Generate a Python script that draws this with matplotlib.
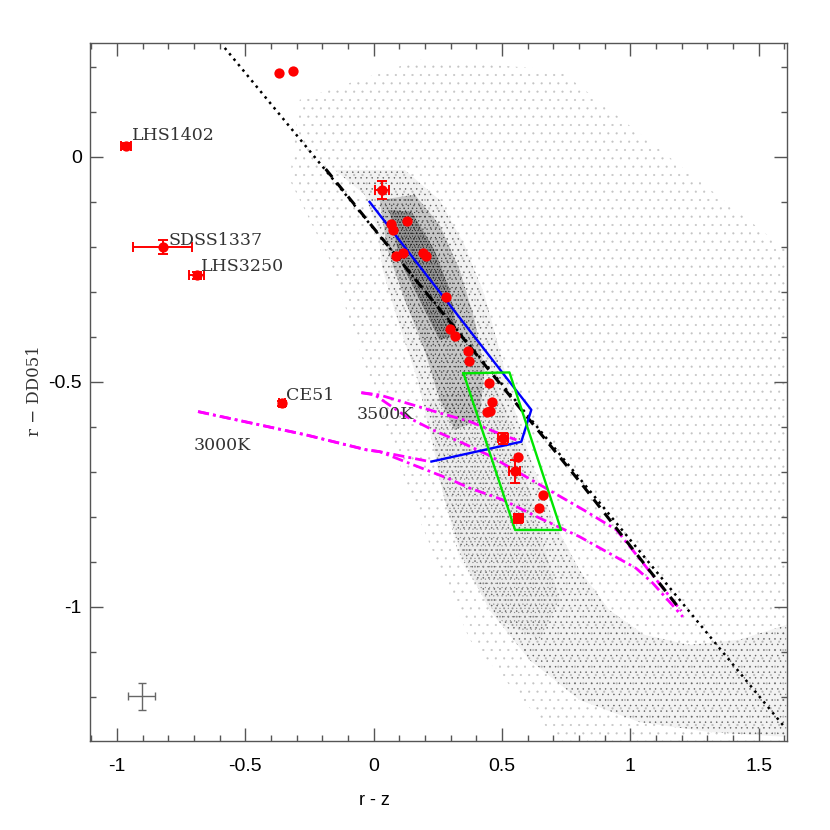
import matplotlib
matplotlib.use("Agg")
import matplotlib.pyplot as plt
from matplotlib.patches import Polygon
import numpy as np

# ---------------- data ----------------
# red measured objects
pts_x = [-0.370, -0.315, -0.965, 0.031, -0.821, -0.689, -0.358, 0.069, 0.074, 0.130,
         0.088, 0.114, 0.192, 0.205, 0.283, 0.296, 0.315, 0.367, 0.371, 0.451,
         0.462, 0.440, 0.455, 0.503, 0.562, 0.549, 0.661, 0.643, 0.564]
pts_y = [0.187, 0.191, 0.024, -0.073, -0.200, -0.263, -0.548, -0.149, -0.162, -0.142,
         -0.221, -0.213, -0.214, -0.220, -0.312, -0.382, -0.397, -0.431, -0.453, -0.503,
         -0.544, -0.567, -0.565, -0.625, -0.668, -0.699, -0.751, -0.781, -0.803]
pts_xerr = [0, 0, 0.020, 0.027, 0.115, 0.030, 0.012, 0, 0, 0,
            0, 0, 0, 0, 0, 0, 0, 0, 0, 0,
            0, 0, 0, 0.020, 0, 0.020, 0, 0, 0.016]
pts_yerr = [0, 0, 0.006, 0.020, 0.016, 0.008, 0.005, 0, 0, 0,
            0, 0, 0, 0, 0, 0, 0, 0, 0, 0,
            0, 0, 0, 0.012, 0, 0.026, 0, 0, 0.010]

labels = ["LHS1402", "SDSS1337", "LHS3250", "CE51", "3500K", "3000K"]
label_x = [-0.943, -0.800, -0.671, -0.340, -0.067, -0.700]
label_y = [0.038, -0.195, -0.253, -0.541, -0.582, -0.651]

# typical error cross
cross_x, cross_y, cross_xerr, cross_yerr = -0.904, -1.199, 0.053, 0.029

# straight dotted relation
dot_x = [-0.580, 1.599]
dot_y = [0.242, -1.266]
# dashed relation
dash_x = [-0.187, 0.813, 1.198]
dash_y = [-0.027, -0.729, -1.009]

# model tracks (magenta)
t3500a_x = [-0.048, 0.023, 0.257, 0.374, 0.502, 0.556]
t3500a_y = [-0.524, -0.529, -0.569, -0.588, -0.618, -0.629]
t3500b_x = [-0.048, 0.004, 0.127, 0.231, 0.347, 0.445, 0.828, 0.946, 1.198]
t3500b_y = [-0.524, -0.529, -0.577, -0.607, -0.636, -0.662, -0.788, -0.829, -1.009]
t3000a_x = [-0.684, -0.262, -0.028, 0.023, 0.218]
t3000a_y = [-0.566, -0.618, -0.651, -0.655, -0.677]
t3000b_x = [-0.684, -0.262, -0.028, 0.023, 0.296, 0.374, 0.503, 0.633, 0.802, 1.022, 1.087, 1.204]
t3000b_y = [-0.566, -0.618, -0.651, -0.655, -0.716, -0.736, -0.762, -0.799, -0.844, -0.914, -0.947, -1.022]

# blue track
blue_x = [-0.016, 0.614, 0.575, 0.225]
blue_y = [-0.100, -0.562, -0.633, -0.677]
# green selection box
green_x = [0.350, 0.529, 0.730, 0.551, 0.350]
green_y = [-0.481, -0.479, -0.829, -0.829, -0.481]

# background star cloud: outlines of density levels
halo_x = [-0.288, 0.179, 0.724, 1.607, 1.607, 0.724, 0.374, 0.179, -0.016, -0.171, -0.327]
halo_y = [0.127, 0.216, 0.193, -0.207, -1.300, -1.300, -1.073, -0.807, -0.496, -0.229, -0.051]
band_x = [-0.152, -0.035, 0.016, 0.035, 0.093, 0.171, 0.226, 0.276, 0.342, 0.451, 0.607,
          0.802, 1.035, 1.307, 1.607, 1.607, 1.424, 1.230, 1.054, 0.918, 0.802, 0.708,
          0.626, 0.549, 0.490, 0.432, 0.354, 0.257, 0.121]
band_y = [-0.029, -0.084, -0.162, -0.251, -0.362, -0.496, -0.629, -0.762, -0.884, -1.007,
          -1.118, -1.207, -1.256, -1.278, -1.289, -1.040, -1.073, -1.084, -1.062, -1.007,
          -0.918, -0.818, -0.696, -0.562, -0.429, -0.307, -0.196, -0.096, -0.029]
mid_x = [0.218, 0.257, 0.335, 0.490, 0.646, 0.724, 0.646, 0.568, 0.471]
mid_y = [-0.540, -0.718, -0.896, -1.029, -1.073, -0.984, -0.829, -0.651, -0.496]
core_x = [0.023, 0.054, 0.121, 0.198, 0.257, 0.315, 0.412, 0.432, 0.393, 0.335, 0.257, 0.160]
core_y = [-0.096, -0.207, -0.318, -0.429, -0.540, -0.607, -0.584, -0.473, -0.362, -0.251, -0.151, -0.084]
dense_x = [0.062, 0.101, 0.179, 0.257, 0.327, 0.296, 0.237, 0.148]
dense_y = [-0.118, -0.229, -0.318, -0.407, -0.396, -0.296, -0.207, -0.122]

xticks = [-1, -0.5, 0, 0.5, 1, 1.5]
xticklabels = ["-1", "-0.5", "0", "0.5", "1", "1.5"]
yticks = [-1, -0.5, 0]
yticklabels = ["-1", "-0.5", "0"]

# ---------------- figure ----------------
plt.rcParams["hatch.linewidth"] = 0.3
fig = plt.figure(figsize=(8.3, 8.3), dpi=100)
ax = fig.add_axes([0.1084, 0.1072, 0.8398, 0.841])
ax.set_xlim(-1.105, 1.61)
ax.set_ylim(-1.298, 0.253)

layers = [
    (halo_x, halo_y, "..", "#c4c4c4", (0, 0, 0, 0.0)),
    (band_x, band_y, "...", "#5a5a5a", (0, 0, 0, 0.05)),
    (mid_x, mid_y, "....", "#8a8a8a", (0, 0, 0, 0.025)),
    (core_x, core_y, "....", "#333333", (0, 0, 0, 0.18)),
    (dense_x, dense_y, "......", "#111111", (0, 0, 0, 0.25)),
]
for lx, ly, h, hc, fc in layers:
    p = Polygon(np.column_stack([lx, ly]), closed=True, facecolor=fc,
                edgecolor=hc, linewidth=0, hatch=h, zorder=1)
    ax.add_patch(p)

ax.plot(dot_x, dot_y, color="black", lw=1.8, dashes=(1, 1.8), zorder=3)
ax.plot(t3500b_x, t3500b_y, color="#ff00ff", lw=2, dashes=(4, 1.5, 1, 1.5), zorder=2.5)
ax.plot(t3500a_x, t3500a_y, color="#ff00ff", lw=2, dashes=(4, 1.5, 1, 1.5), zorder=2.5)
ax.plot(t3000a_x, t3000a_y, color="#ff00ff", lw=2, dashes=(4, 1.5, 1, 1.5), zorder=2.5)
ax.plot(t3000b_x, t3000b_y, color="#ff00ff", lw=2, dashes=(4, 1.5, 1, 1.5), zorder=2.5)
ax.plot(dash_x, dash_y, color="black", lw=2.2, dashes=(3.4, 2.4), zorder=3)
ax.plot(blue_x, blue_y, color="#0000ff", lw=1.7, zorder=3)
ax.plot(green_x, green_y, color="#00e600", lw=1.7, zorder=3)

px = np.array(pts_x); py = np.array(pts_y)
pxe = np.array(pts_xerr); pye = np.array(pts_yerr)
m = (pxe > 0) | (pye > 0)
ax.errorbar(px[m], py[m], xerr=pxe[m], yerr=pye[m], fmt="none", ecolor="#ff0000",
            elinewidth=1.4, capsize=3.5, capthick=1.4, zorder=4)
ax.plot(px, py, "o", color="#ff0000", ms=7.4, mec="none", zorder=5)

ax.errorbar([cross_x], [cross_y], xerr=[cross_xerr], yerr=[cross_yerr], fmt="none",
            ecolor="#666666", elinewidth=1.0, capsize=3, capthick=1.0, zorder=4)

for t, tx, ty in zip(labels, label_x, label_y):
    ax.text(tx, ty, t, family="DejaVu Serif", fontsize=12.5, color="#333333",
            ha="left", va="baseline", zorder=6)

# axes styling
for s in ax.spines.values():
    s.set_color("#555555")
    s.set_linewidth(1.0)
ax.set_xticks(xticks)
ax.set_xticklabels(xticklabels)
ax.set_yticks(yticks)
ax.set_yticklabels(yticklabels)
ax.set_xticks(np.arange(-1.1, 1.61, 0.1), minor=True)
ax.set_yticks(np.arange(-1.2, 0.25, 0.1), minor=True)
ax.tick_params(which="both", direction="in", top=True, right=True, color="#555555")
ax.tick_params(which="major", length=9.5, width=1.0)
ax.tick_params(which="minor", length=4.5, width=1.0)
ax.tick_params(axis="x", which="major", pad=12, labelsize=14)
ax.tick_params(axis="y", which="major", pad=6, labelsize=14)
for lab in ax.get_xticklabels() + ax.get_yticklabels():
    lab.set_family("Liberation Sans")

fig.text(0.4506, 0.036, "r - z", family="Liberation Sans", fontsize=13,
         ha="center", va="center")
fig.text(0.041, 0.53, "r \u2212 DD051", family="DejaVu Serif", fontsize=12,
         color="#333333", rotation=90, ha="center", va="center")

fig.savefig("out.png", dpi=100, facecolor="white")
